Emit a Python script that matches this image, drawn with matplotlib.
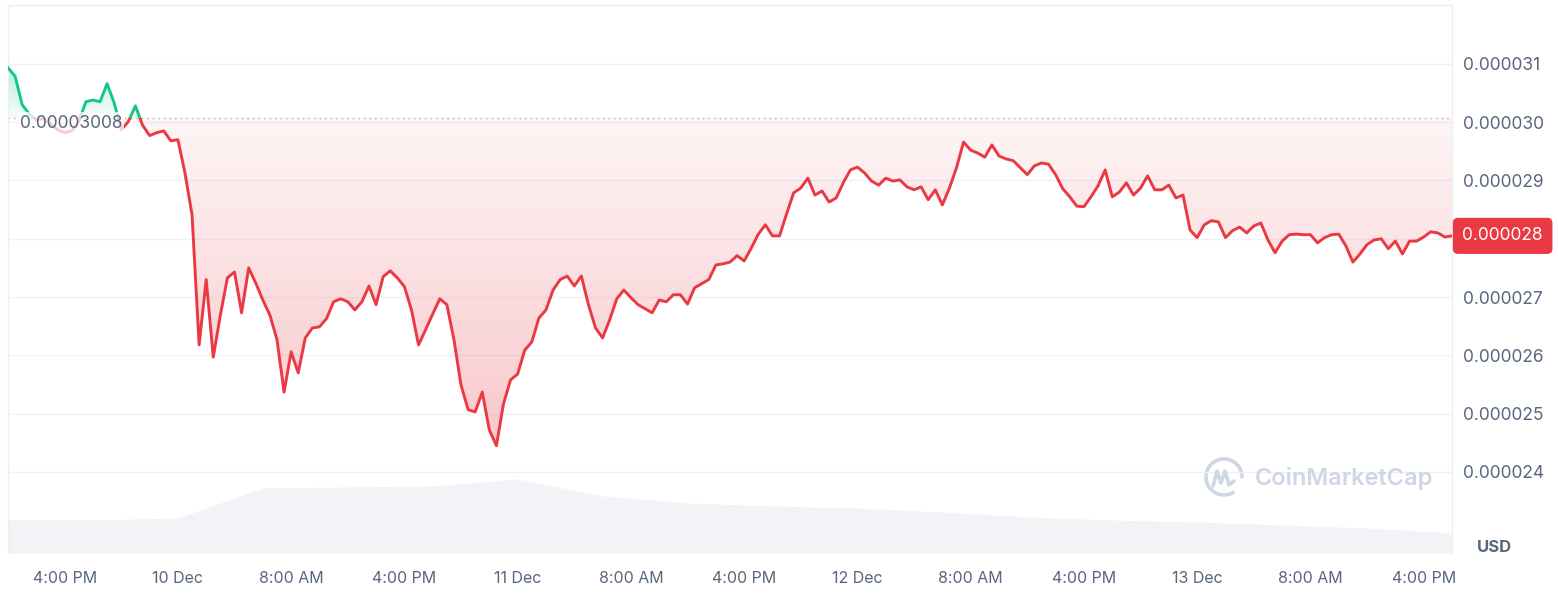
import matplotlib
matplotlib.use('Agg')
import matplotlib.pyplot as plt
import matplotlib.dates as mdates
import matplotlib.transforms as mtransforms
from matplotlib.colors import to_rgb
from matplotlib.patches import Rectangle, Arc
from matplotlib.lines import Line2D
from matplotlib.ticker import FuncFormatter
import numpy as np
import pandas as pd

plt.rcParams['font.family'] = ['Inter', 'DejaVu Sans']

# price in 1e-6 USD, one value every 30 minutes from 9 Dec 12:00
price = [
    30.93, 30.79, 30.30, 30.14, 30.04, 30.06, 29.97, 29.87, 29.82, 29.85,
    30.01, 30.35, 30.38, 30.35, 30.66, 30.33, 29.87, 30.01, 30.28, 29.95,
    29.77, 29.82, 29.85, 29.68, 29.70, 29.13, 28.41, 26.18, 27.30, 25.97,
    26.69, 27.33, 27.43, 26.73, 27.50, 27.24, 26.95, 26.69, 26.27, 25.37,
    26.06, 25.70, 26.30, 26.47, 26.49, 26.63, 26.92, 26.97, 26.92, 26.78,
    26.92, 27.19, 26.87, 27.35, 27.45, 27.33, 27.18, 26.78, 26.18, 26.44,
    26.71, 26.97, 26.87, 26.27, 25.49, 25.07, 25.03, 25.37, 24.72, 24.45,
    25.17, 25.58, 25.68, 26.09, 26.23, 26.64, 26.78, 27.12, 27.30, 27.36,
    27.19, 27.36, 26.87, 26.47, 26.30, 26.61, 26.97, 27.12, 26.99, 26.87,
    26.80, 26.73, 26.95, 26.92, 27.04, 27.04, 26.88, 27.16, 27.23, 27.30,
    27.55, 27.57, 27.60, 27.71, 27.62, 27.84, 28.08, 28.24, 28.05, 28.05,
    28.43, 28.79, 28.87, 29.04, 28.75, 28.82, 28.63, 28.70, 28.96, 29.18,
    29.23, 29.13, 28.99, 28.92, 29.04, 28.99, 29.01, 28.89, 28.84, 28.89,
    28.67, 28.84, 28.58, 28.87, 29.22, 29.66, 29.52, 29.47, 29.40, 29.61,
    29.42, 29.37, 29.34, 29.22, 29.10, 29.25, 29.30, 29.28, 29.10, 28.86,
    28.72, 28.56, 28.55, 28.72, 28.91, 29.18, 28.72, 28.80, 28.96, 28.75,
    28.87, 29.08, 28.84, 28.84, 28.92, 28.70, 28.75, 28.15, 28.02, 28.24,
    28.31, 28.29, 28.02, 28.14, 28.20, 28.10, 28.22, 28.27, 27.98, 27.76,
    27.96, 28.07, 28.08, 28.07, 28.07, 27.93, 28.02, 28.07, 28.08, 27.88,
    27.60, 27.74, 27.90, 27.98, 28.00, 27.83, 27.96, 27.74, 27.96, 27.96,
    28.03, 28.12, 28.10, 28.03, 28.05,
]
open_price = 30.08  # 1e-6 USD

# volume in USD millions, one value every 6 hours
volume = [3.3, 3.3, 3.5, 6.5, 6.6, 6.7, 7.4, 5.7, 5.0, 4.7,
          4.5, 4.1, 3.6, 3.3, 3.1, 2.8, 2.5, 2.0]

times = pd.date_range('2023-12-09 12:00', periods=len(price), freq='30min')
vol_times = pd.date_range('2023-12-09 12:00', periods=len(volume), freq='6h')

RED = '#ea3943'
GREEN = '#16c784'
GREY = '#58667e'
GRID = '#eff2f5'

p = np.array(price) * 1e-6
base = open_price * 1e-6
t = mdates.date2num(times)
tv = mdates.date2num(vol_times)

W, H = 1558, 598
fig = plt.figure(figsize=(W / 100, H / 100), dpi=100)
ax = fig.add_axes([8 / W, 45 / H, 1444 / W, 548 / H])
vax = ax.twinx()
ax.set_zorder(1)
vax.set_zorder(0)
ax.patch.set_visible(False)

# volume
vax.fill_between(tv, volume, 0, color='#f1f3f6', lw=0)
vax.set_ylim(0, 54.8)
vax.set_yticks([])
for s in vax.spines.values():
    s.set_visible(False)

ylo, yhi = 22.61e-6, 32.01e-6
ax.set_xlim(t[0], t[-1])
ax.set_ylim(ylo, yhi)


def gradient_fill(lower, upper, color, a_top, a_bot, y0, y1):
    poly = ax.fill_between(t, lower, upper, facecolor='none', edgecolor='none')
    rgb = to_rgb(color)
    grad = np.zeros((256, 1, 4))
    grad[:, 0, :3] = rgb
    grad[:, 0, 3] = np.linspace(a_top, a_bot, 256)
    im = ax.imshow(grad, extent=[t[0], t[-1], y0, y1], aspect='auto',
                   origin='upper', zorder=1)
    im.set_clip_path(poly.get_paths()[0], transform=ax.transData)


gradient_fill(np.minimum(p, base), base, RED, 0.05, 0.28, p.min(), base)
gradient_fill(base, np.maximum(p, base), GREEN, 0.28, 0.05, base, p.max())
ax.set_xlim(t[0], t[-1])
ax.set_ylim(ylo, yhi)

blend = mtransforms.blended_transform_factory(ax.transAxes, ax.transData)
above = Rectangle((0, base), 1, 1, transform=blend)
below = Rectangle((0, base), 1, -1, transform=blend)
lg, = ax.plot(t, p, color=GREEN, lw=2.1, zorder=3, solid_joinstyle='round')
lg.set_clip_path(above)
lr, = ax.plot(t, p, color=RED, lw=2.1, zorder=3, solid_joinstyle='round')
lr.set_clip_path(below)

ax.axhline(base, color='#a7b1c2', lw=1, ls=(0, (1, 3)), zorder=2)
ax.annotate(f'{base:.8f}', xy=(0, base), xycoords=blend,
            xytext=(8.5, -4), textcoords='offset points', ha='left', va='center',
            color=GREY, fontsize=12.5, zorder=4,
            bbox=dict(boxstyle='square,pad=0.12', fc='white', ec='none', alpha=0.75))

# axes styling
last_tick = round(p[-1] * 1e6)
ax.yaxis.tick_right()
ax.set_yticks(np.arange(24, 32) * 1e-6)
# the tick under the price tag is covered by the tag
ax.yaxis.set_major_formatter(FuncFormatter(
    lambda v, _: '' if round(v * 1e6) == last_tick else f'{v:.6f}'))
ax.xaxis.set_major_locator(mdates.HourLocator(byhour=[0, 8, 16]))


def fmt_time(x, pos):
    d = mdates.num2date(x)
    if d.hour == 0:
        return f'{d.day} Dec'
    h = d.hour % 12 or 12
    return f'{h}:{d.minute:02d} ' + ('AM' if d.hour < 12 else 'PM')


ax.xaxis.set_major_formatter(FuncFormatter(fmt_time))
ax.tick_params(axis='both', length=0, labelcolor=GREY)
ax.tick_params(axis='x', pad=13, labelsize=11.5)
ax.tick_params(axis='y', pad=8, labelsize=12.5)
ax.grid(axis='y', color=GRID, lw=1)
ax.set_axisbelow(True)
for name, s in ax.spines.items():
    s.set_color('#eceff3')
    s.set_linewidth(1)
ax.spines['bottom'].set_visible(False)

# last price tag
ax.annotate(f'{p[-1]:.6f}', xy=(1, p[-1]), xycoords=blend,
            xytext=(7.5, 0), textcoords='offset points', ha='left', va='center',
            color='white', fontsize=12.5, annotation_clip=False, zorder=5,
            bbox=dict(boxstyle='round,pad=0.55,rounding_size=0.3', fc=RED, ec='none'))

# watermark
WM = '#cfd6e4'
fig.text(1255 / W, 1 - 478 / H, 'CoinMarketCap', color=WM, fontsize=17,
         fontweight='semibold', va='center', ha='left')
fig.add_artist(Arc((1224 / W, 1 - 477 / H), 36 / W, 36 / H, theta1=-10, theta2=285,
                   transform=fig.transFigure, color=WM, lw=2.6))
mx = np.array([1213, 1217, 1221, 1225, 1229, 1234]) / W
my = 1 - np.array([486, 471, 483, 471, 485, 481]) / H
fig.add_artist(Line2D(mx, my, transform=fig.transFigure, color=WM, lw=2.6,
                      solid_joinstyle='round', solid_capstyle='round'))

fig.text(1494 / W, 1 - 548 / H, 'USD', ha='center', va='center',
         fontweight='bold', color=GREY, fontsize=12)

fig.savefig('out.png', dpi=100)
